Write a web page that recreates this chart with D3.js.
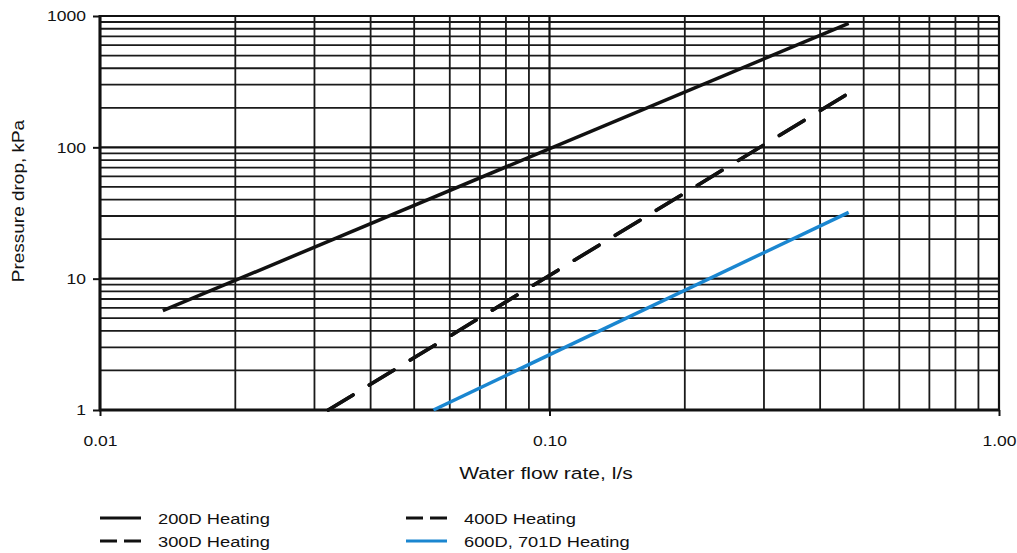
<!DOCTYPE html>
<html><head><meta charset="utf-8">
<script src="https://cdn.jsdelivr.net/npm/d3@7"></script>
<style>
body{margin:0;background:#fff;}
text{font-family:"Liberation Sans",Arial,sans-serif;fill:#111;}
</style></head>
<body><svg id="c" width="1017" height="553"></svg>
<script>
// ---- data ----
const xTickValues = [0.01, 0.1, 1];
const xTickLabels = ["0.01", "0.10", "1.00"];
const yTickValues = [1, 10, 100, 1000];
const yTickLabels = ["1", "10", "100", "1000"];
const seriesNames = ["200D Heating", "300D Heating", "400D Heating", "600D, 701D Heating"];
const flow200 = [0.0138, 0.463];
const drop200 = [5.7, 880];
const flow300 = [0.0322, 0.463];
const drop300 = [1, 258];
const flow400 = [0.0322, 0.463];
const drop400 = [1, 258];
const flow600 = [0.0552, 0.463];
const drop600 = [1, 32];

const svg = d3.select("#c");
const L = 100, R = 999, T = 16, B = 410;
const x = d3.scaleLog().domain([0.01, 1]).range([L, R]);
const y = d3.scaleLog().domain([1, 1000]).range([B, T]);

// grid
const gx = [], gy = [];
for (let d = 0.01; d < 1; d *= 10) for (let k = 2; k <= 9; k++) gx.push(+(d * k).toPrecision(3));
for (let d = 1; d < 1000; d *= 10) for (let k = 2; k <= 9; k++) gy.push(d * k);
const grid = svg.append("g");
grid.selectAll("line.gx").data(gx).enter().append("line")
  .attr("x1", d => x(d)).attr("x2", d => x(d)).attr("y1", T).attr("y2", B)
  .attr("stroke", "#1a1a1a").attr("stroke-width", 1.8);
grid.selectAll("line.gy").data(gy).enter().append("line")
  .attr("y1", d => y(d)).attr("y2", d => y(d)).attr("x1", L).attr("x2", R)
  .attr("stroke", "#1a1a1a").attr("stroke-width", 1.8);
grid.selectAll("line.gxm").data(xTickValues).enter().append("line")
  .attr("x1", d => x(d)).attr("x2", d => x(d)).attr("y1", T).attr("y2", B)
  .attr("stroke", "#111").attr("stroke-width", 2.2);
grid.selectAll("line.gym").data(yTickValues).enter().append("line")
  .attr("y1", d => y(d)).attr("y2", d => y(d)).attr("x1", L).attr("x2", R)
  .attr("stroke", "#111").attr("stroke-width", 2.2);

// axes
const TS = 1.13; // horizontal stretch of tick labels
const xAxis = d3.axisBottom(x).tickValues(xTickValues).tickFormat((d, i) => xTickLabels[i]).tickSize(6).tickPadding(19);
const yAxis = d3.axisLeft(y).tickValues(yTickValues).tickFormat((d, i) => yTickLabels[i]).tickSize(7).tickPadding(7);
const gxa = svg.append("g").attr("transform", `translate(0,${B})`).call(xAxis);
const gya = svg.append("g").attr("transform", `translate(${L},0)`).call(yAxis);
[gxa, gya].forEach(g => {
  g.select(".domain").remove();
  g.selectAll(".tick line").attr("stroke", "#111").attr("stroke-width", 2);
  g.selectAll(".tick text").attr("font-size", 15.5).attr("font-family", "Liberation Sans, Arial, sans-serif").attr("fill", "#111")
    .attr("transform", `scale(${TS},1)`);
});
gya.selectAll(".tick text").attr("x", -14 / TS);
svg.append("line").attr("x1", L).attr("x2", L).attr("y1", T - 1).attr("y2", B + 1).attr("stroke", "#111").attr("stroke-width", 3);
svg.append("line").attr("x1", L - 1).attr("x2", R).attr("y1", B).attr("y2", B).attr("stroke", "#111").attr("stroke-width", 3);

// series
const line = d3.line().x(d => x(d[0])).y(d => y(d[1]));
const zip = (a, b) => a.map((v, i) => [v, b[i]]);
const series = [
  {name: seriesNames[0], pts: zip(flow200, drop200), color: "#111", dash: null},
  {name: seriesNames[1], pts: zip(flow300, drop300), color: "#111", dash: "29,19"},
  {name: seriesNames[2], pts: zip(flow400, drop400), color: "#111", dash: "29,19"},
  {name: seriesNames[3], pts: zip(flow600, drop600), color: "#1a86d0", dash: null}
];
series.forEach(s => {
  svg.append("path").attr("d", line(s.pts)).attr("fill", "none")
    .attr("stroke", s.color).attr("stroke-width", 3.5)
    .attr("stroke-linecap", s.dash ? "round" : "butt")
    .attr("stroke-dasharray", s.dash);
});

// axis titles
svg.append("text").attr("transform", "translate(546,479) scale(1.24,1)").attr("text-anchor", "middle").attr("font-size", 17).text("Water flow rate, l/s");
svg.append("text").attr("transform", "translate(23.5,201) rotate(-90) scale(1.15,1)").attr("text-anchor", "middle").attr("font-size", 16.5).text("Pressure drop, kPa");

// legend
const legPos = [[100, 518], [100, 541], [406, 518], [406, 541]];
series.forEach((s, i) => {
  const [lx, ly] = legPos[i];
  svg.append("line").attr("x1", lx).attr("x2", lx + 41).attr("y1", ly).attr("y2", ly)
    .attr("stroke", s.color).attr("stroke-width", 3)
    .attr("stroke-dasharray", s.dash ? "17,7" : null);
  svg.append("text").attr("transform", `translate(${lx + 58},${ly + 6}) scale(1.22,1)`).attr("font-size", 15).text(s.name);
});
</script></body></html>
